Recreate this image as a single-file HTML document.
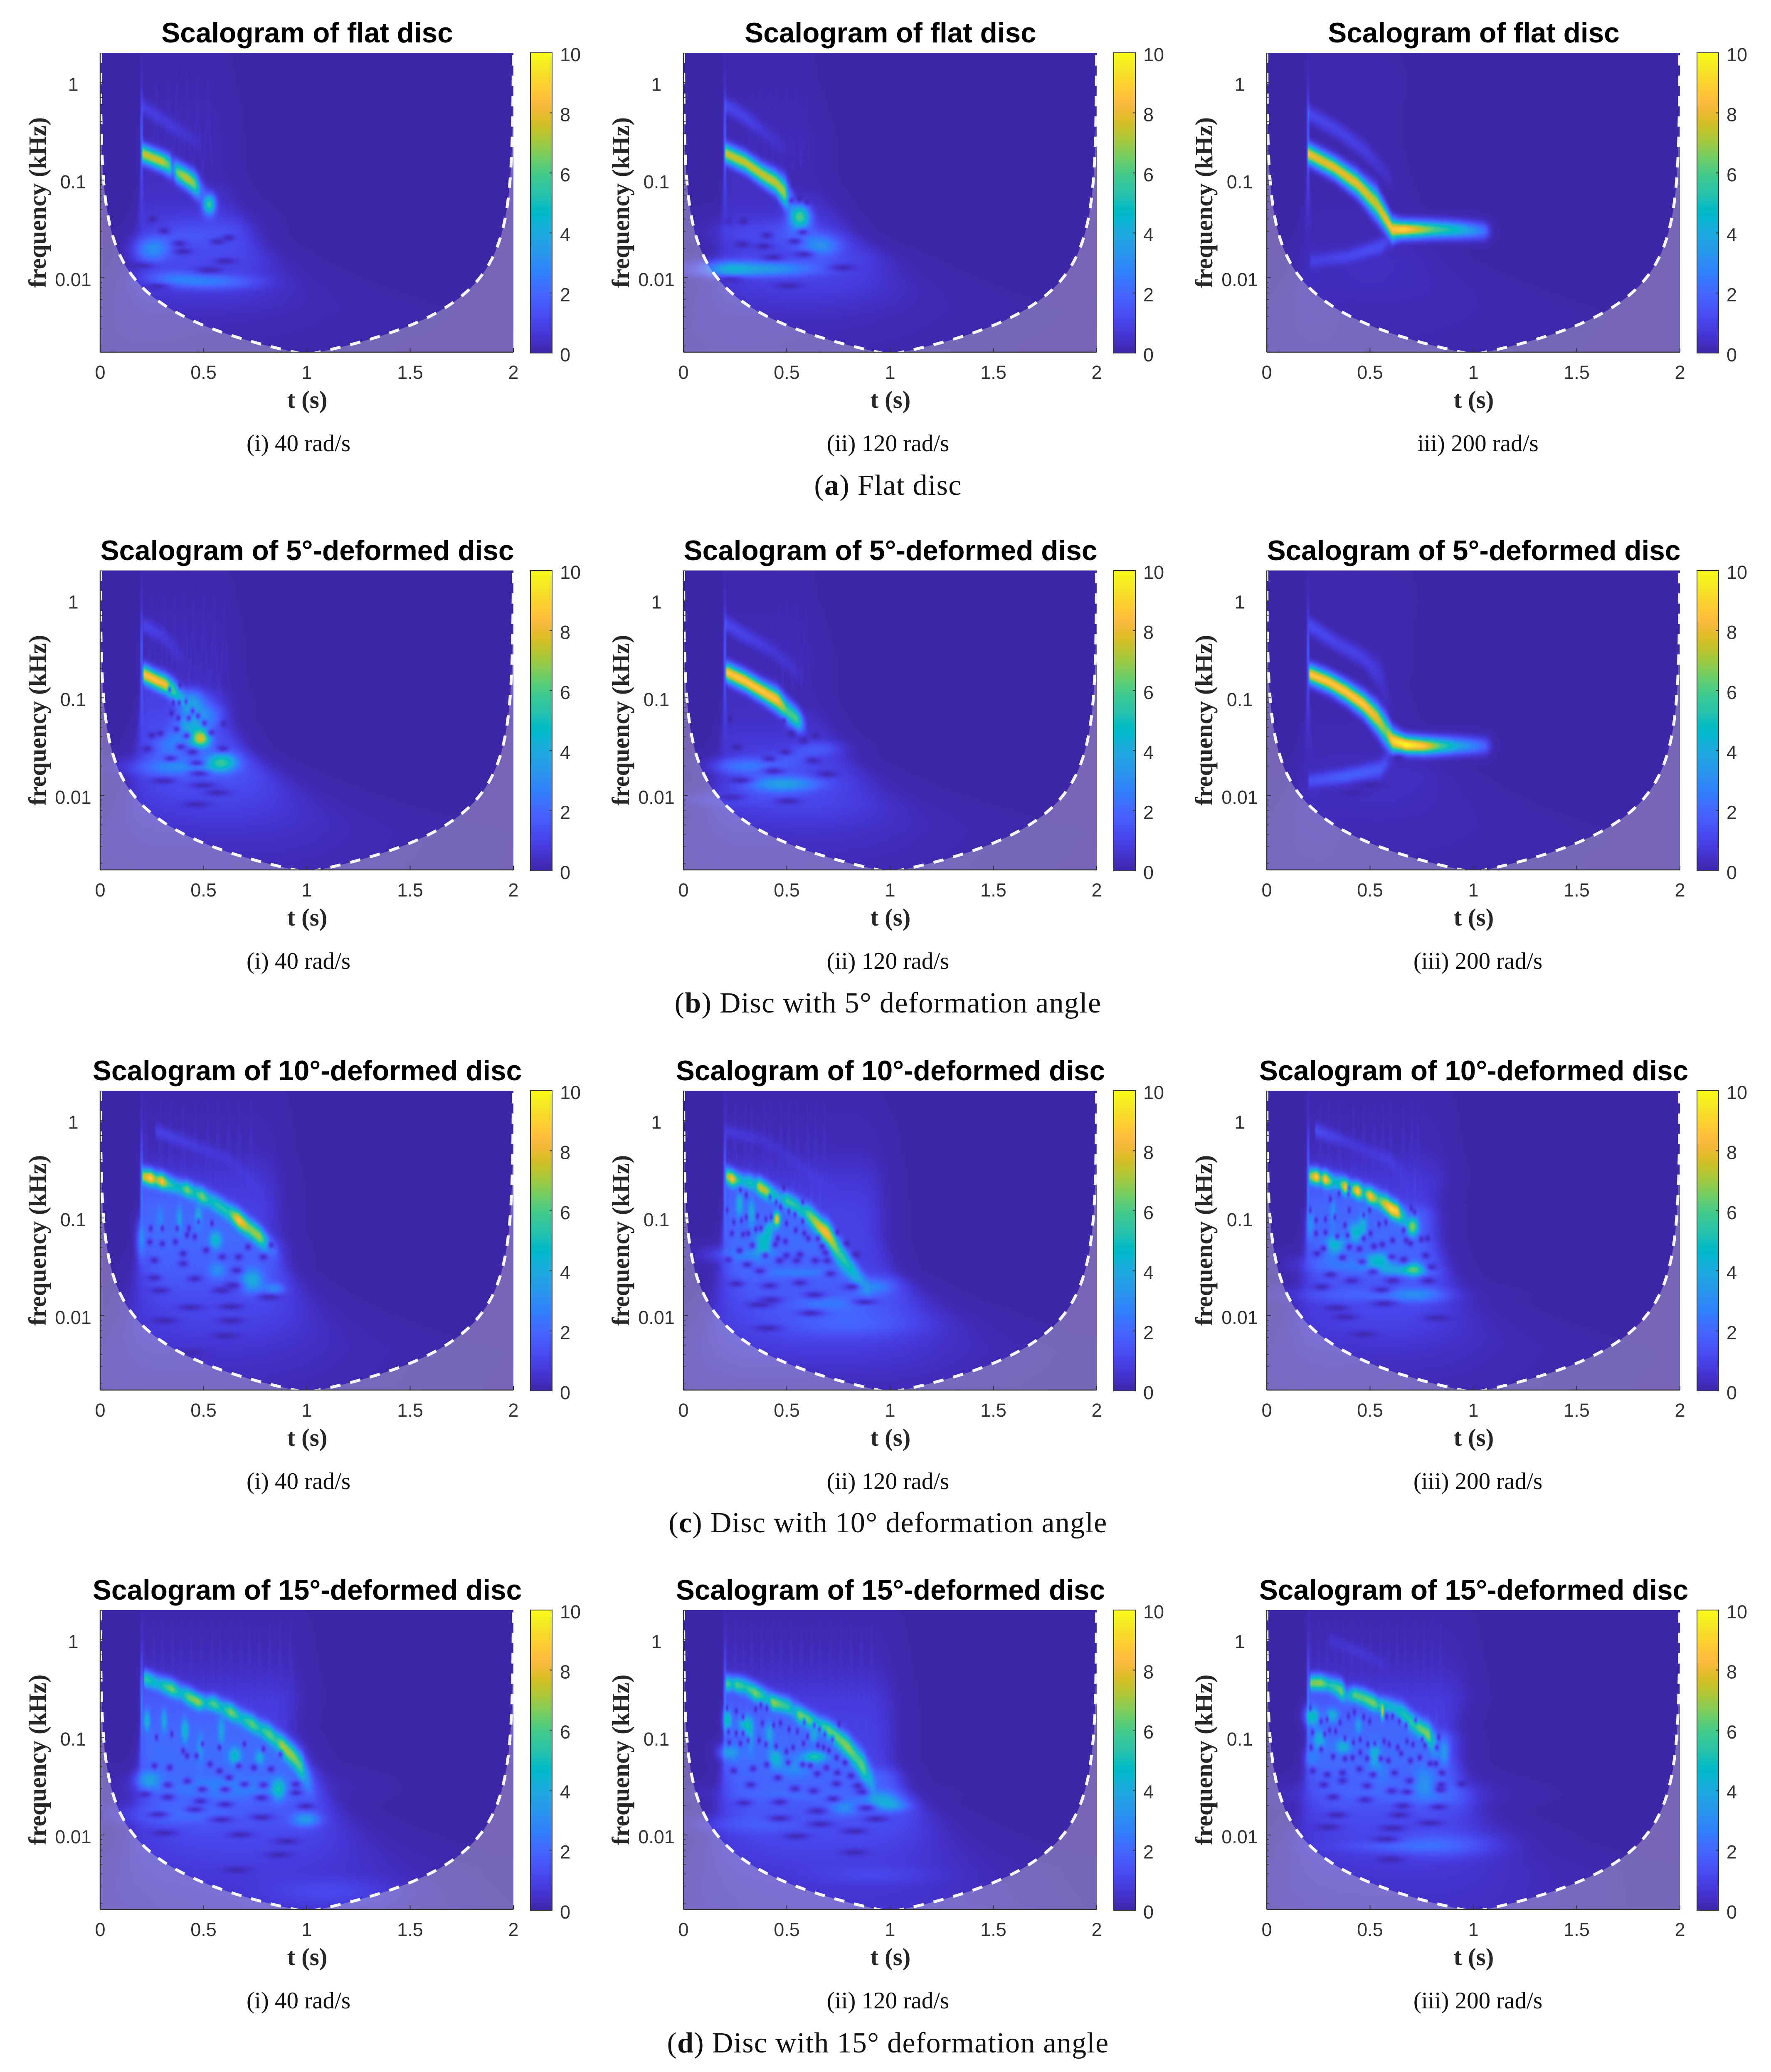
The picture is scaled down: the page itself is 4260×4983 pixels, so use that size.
<!DOCTYPE html>
<html lang="en">
<head>
<meta charset="utf-8">
<title>Scalograms of flat and deformed discs</title>
<style>
html,body{margin:0;padding:0;background:#fff;}
#figure{position:relative;width:4260px;height:4983px;overflow:hidden;background:#fff;}
#figure canvas{position:absolute;display:block;}
#overlay{position:absolute;left:0;top:0;}
.title{font:bold 67.5px "Liberation Sans",Arial,sans-serif;fill:#000;text-anchor:middle;}
.axis-title{font:bold 59px "Liberation Serif","Times New Roman",serif;fill:#262626;text-anchor:middle;}
.tick-label{font:45px "Liberation Sans",Arial,sans-serif;fill:#333;}
.caption{font:57px "Liberation Serif","Times New Roman",serif;fill:#111;text-anchor:middle;}
.subcaption{font:70px "Liberation Serif","Times New Roman",serif;fill:#111;text-anchor:middle;letter-spacing:1.3px;}
</style>
</head>
<body>
<div id="figure">
<svg id="overlay" width="4260" height="4983" viewBox="0 0 4260 4983" xmlns="http://www.w3.org/2000/svg">
<defs>
<clipPath id="plot-clip"><rect x="0" y="0" width="994" height="720"></rect></clipPath>
<linearGradient id="parula-gradient" x1="0" y1="1" x2="0" y2="0"></linearGradient>
</defs>

<g id="p-a1" transform="translate(241,127)">
<text class="title" x="498" y="-25">Scalogram of flat disc</text>
<text class="axis-title" x="498" y="854">t (s)</text>
<text class="axis-title" transform="translate(-131,360) rotate(-90)">frequency (kHz)</text>
<text class="caption" x="477" y="958">(i) 40 rad/s</text>
</g>
<g id="p-a2" transform="translate(1644,127)">
<text class="title" x="498" y="-25">Scalogram of flat disc</text>
<text class="axis-title" x="498" y="854">t (s)</text>
<text class="axis-title" transform="translate(-131,360) rotate(-90)">frequency (kHz)</text>
<text class="caption" x="492" y="958">(ii) 120 rad/s</text>
</g>
<g id="p-a3" transform="translate(3047,127)">
<text class="title" x="498" y="-25">Scalogram of flat disc</text>
<text class="axis-title" x="498" y="854">t (s)</text>
<text class="axis-title" transform="translate(-131,360) rotate(-90)">frequency (kHz)</text>
<text class="caption" x="508" y="958">iii) 200 rad/s</text>
</g>
<text class="subcaption" x="2136" y="1190">(<tspan font-weight="bold">a</tspan>)  Flat disc</text>

<g id="p-b1" transform="translate(241,1372)">
<text class="title" x="498" y="-25">Scalogram of 5°-deformed disc</text>
<text class="axis-title" x="498" y="854">t (s)</text>
<text class="axis-title" transform="translate(-131,360) rotate(-90)">frequency (kHz)</text>
<text class="caption" x="477" y="958">(i) 40 rad/s</text>
</g>
<g id="p-b2" transform="translate(1644,1372)">
<text class="title" x="498" y="-25">Scalogram of 5°-deformed disc</text>
<text class="axis-title" x="498" y="854">t (s)</text>
<text class="axis-title" transform="translate(-131,360) rotate(-90)">frequency (kHz)</text>
<text class="caption" x="492" y="958">(ii) 120 rad/s</text>
</g>
<g id="p-b3" transform="translate(3047,1372)">
<text class="title" x="498" y="-25">Scalogram of 5°-deformed disc</text>
<text class="axis-title" x="498" y="854">t (s)</text>
<text class="axis-title" transform="translate(-131,360) rotate(-90)">frequency (kHz)</text>
<text class="caption" x="508" y="958">(iii) 200 rad/s</text>
</g>
<text class="subcaption" x="2136" y="2435">(<tspan font-weight="bold">b</tspan>)  Disc with 5° deformation angle</text>

<g id="p-c1" transform="translate(241,2623)">
<text class="title" x="498" y="-25">Scalogram of 10°-deformed disc</text>
<text class="axis-title" x="498" y="854">t (s)</text>
<text class="axis-title" transform="translate(-131,360) rotate(-90)">frequency (kHz)</text>
<text class="caption" x="477" y="958">(i) 40 rad/s</text>
</g>
<g id="p-c2" transform="translate(1644,2623)">
<text class="title" x="498" y="-25">Scalogram of 10°-deformed disc</text>
<text class="axis-title" x="498" y="854">t (s)</text>
<text class="axis-title" transform="translate(-131,360) rotate(-90)">frequency (kHz)</text>
<text class="caption" x="492" y="958">(ii) 120 rad/s</text>
</g>
<g id="p-c3" transform="translate(3047,2623)">
<text class="title" x="498" y="-25">Scalogram of 10°-deformed disc</text>
<text class="axis-title" x="498" y="854">t (s)</text>
<text class="axis-title" transform="translate(-131,360) rotate(-90)">frequency (kHz)</text>
<text class="caption" x="508" y="958">(iii) 200 rad/s</text>
</g>
<text class="subcaption" x="2136" y="3685">(<tspan font-weight="bold">c</tspan>)  Disc with 10° deformation angle</text>

<g id="p-d1" transform="translate(241,3872)">
<text class="title" x="498" y="-25">Scalogram of 15°-deformed disc</text>
<text class="axis-title" x="498" y="854">t (s)</text>
<text class="axis-title" transform="translate(-131,360) rotate(-90)">frequency (kHz)</text>
<text class="caption" x="477" y="958">(i) 40 rad/s</text>
</g>
<g id="p-d2" transform="translate(1644,3872)">
<text class="title" x="498" y="-25">Scalogram of 15°-deformed disc</text>
<text class="axis-title" x="498" y="854">t (s)</text>
<text class="axis-title" transform="translate(-131,360) rotate(-90)">frequency (kHz)</text>
<text class="caption" x="492" y="958">(ii) 120 rad/s</text>
</g>
<g id="p-d3" transform="translate(3047,3872)">
<text class="title" x="498" y="-25">Scalogram of 15°-deformed disc</text>
<text class="axis-title" x="498" y="854">t (s)</text>
<text class="axis-title" transform="translate(-131,360) rotate(-90)">frequency (kHz)</text>
<text class="caption" x="508" y="958">(iii) 200 rad/s</text>
</g>
<text class="subcaption" x="2136" y="4936">(<tspan font-weight="bold">d</tspan>)  Disc with 15° deformation angle</text>
</svg>
</div>

<script>
// ---------- axes ----------
const tTicks=[0,0.5,1,1.5,2];
const tLabels=['0','0.5','1','1.5','2'];
const fTicks=[1,0.1,0.01];
const fLabels=['1','0.1','0.01'];
const fMinorTicks=[2,0.9,0.8,0.7,0.6,0.5,0.4,0.3,0.2,0.09,0.08,0.07,0.06,0.05,0.04,0.03,0.02,0.009,0.008,0.007,0.006,0.005,0.004,0.003,0.002];
const cbTicks=[0,2,4,6,8,10];
const tDomain=[0,2];
const logFDomain=[-2.762,0.304];
const cbDomain=[0,10];
const coiConstant=0.00163;

// ---------- shared signal profiles (log10 kHz) ----------
const spikeTime=0.2;
const spikeLogF=[0.3,0,-0.5,-0.8,-1,-1.3,-1.6];
const spikeA=[0.15,0.4,1.8,1.6,1,0.45,0.12];
const veinLogF=[0.3,0,-0.3,-0.6,-0.85,-1];
const veinA=[0.1,0.3,0.6,0.8,0.7,0];
const hazeLogF=[0.3,0,-0.3,-0.6,-0.9,-1.2,-1.5,-1.8,-2.1,-2.4,-2.7];

// ---------- flat disc, 40 rad/s ----------
const flat40MainT=[0.207,0.30,0.335,0.35,0.373,0.42,0.457,0.49];
const flat40MainF=[-0.73,-0.81,-0.85,-0.88,-0.92,-0.98,-1.04,-1.12];
const flat40MainA=[7.5,7.5,6,2.2,6.5,7.5,6.5,2];
const flat40EchoT=[0.207,0.35,0.46];
const flat40EchoF=[-0.25,-0.45,-0.6];
const flat40EchoA=[0.8,0.7,0.4];
const flat40PatchT=[0.527,0.253,0.55,0.346,0.6,0.4];
const flat40PatchF=[-1.247,-1.71,-2.04,-2,-1.56,-1.56];
const flat40PatchA=[5.5,2.8,2.2,1.5,1,1];
const flat40PatchDt=[0.018,0.05,0.13,0.08,0.08,0.07];
const flat40PatchDf=[0.06,0.08,0.05,0.05,0.12,0.1];
const flat40HoleT=[0.253,0.309,0.383,0.40,0.567,0.623,0.604,0.53,0.198,0.272];
const flat40HoleF=[-1.40,-1.52,-1.65,-1.73,-1.63,-1.59,-1.83,-1.92,-1.876,-2.09];
const flat40HazeA=[0.05,0.12,0.3,0.4,0.3,0.45,0.9,1.2,0.9,0.35,0.1];
const flat40HazeEnd=[0.6,0.6,0.6,0.6,0.62,0.65,0.72,0.8,0.85,0.9,0.9];
const flat40VeinT=[0.27,0.33,0.37,0.42,0.47,0.52];

// ---------- flat disc, 120 rad/s ----------
const flat120MainT=[0.206,0.30,0.382,0.448,0.489,0.51];
const flat120MainF=[-0.727,-0.82,-0.944,-1.027,-1.13,-1.2];
const flat120MainA=[7.5,7.5,7.5,7.4,7,3];
const flat120EchoT=[0.206,0.26,0.317,0.382,0.465];
const flat120EchoF=[-0.24,-0.30,-0.386,-0.49,-0.634];
const flat120EchoA=[1.1,1,0.9,0.6,0.4];
const flat120PatchT=[0.563,0.38,0.22,0.67,0.3,0.55];
const flat120PatchF=[-1.368,-1.91,-1.91,-1.678,-1.54,-1.55];
const flat120PatchA=[5.5,3.3,1.6,2.6,0.8,1.3];
const flat120PatchDt=[0.028,0.17,0.06,0.06,0.1,0.08];
const flat120PatchDf=[0.07,0.05,0.05,0.07,0.09,0.1];
const flat120HoleT=[0.522,0.563,0.596,0.53,0.576,0.539,0.584,0.432,0.387,0.284,0.403,0.21,0.288,0.769,0.506,0.226];
const flat120HoleF=[-1.209,-1.19,-1.223,-1.048,-1.533,-1.626,-1.76,-1.791,-1.678,-1.657,-1.564,-1.419,-1.419,-1.895,-2.08,-2.019];
const flat120HazeA=[0.05,0.12,0.3,0.4,0.35,0.4,0.7,1.1,0.9,0.4,0.15];
const flat120HazeEnd=[0.6,0.6,0.62,0.65,0.65,0.7,0.8,0.95,1,1,1];
const flat120VeinT=[0.33,0.37,0.41,0.45,0.5,0.55,0.59];

// ---------- flat disc, 200 rad/s ----------
const flat200MainT=[0.204,0.326,0.439,0.532,0.607,0.664,0.813,0.93,1.04];
const flat200MainF=[-0.732,-0.869,-1.04,-1.247,-1.505,-1.505,-1.505,-1.51,-1.52];
const flat200MainA=[8,8,8,7.5,8.5,9,6,4.5,2.5];
const flat200EchoT=[0.204,0.345,0.476,0.58];
const flat200EchoF=[-0.32,-0.49,-0.70,-0.94];
const flat200EchoA=[1.1,1,0.8,0.4];
const flat200LowT=[0.214,0.40,0.55,0.6];
const flat200LowF=[-1.83,-1.78,-1.68,-1.6];
const flat200LowA=[0.8,1.1,1.3,0.7];
const flat200PatchT=[];
const flat200PatchF=[];
const flat200PatchA=[];
const flat200PatchDt=[];
const flat200PatchDf=[];
const flat200HoleT=[];
const flat200HoleF=[];
const flat200HazeA=[0.03,0.06,0.12,0.12,0.08,0.08,0.12,0.3,0.3,0.18,0.1];
const flat200HazeEnd=[0.65,0.65,0.6,0.6,0.65,0.7,0.75,0.8,0.9,1,1];
const flat200VeinT=[];

// ---------- 5 deg, 40 rad/s ----------
const deg5w40MainT=[0.212,0.266,0.315,0.36,0.397];
const deg5w40MainF=[-0.758,-0.816,-0.862,-0.934,-1.006];
const deg5w40MainA=[8.5,8.5,8.2,5.5,3.2];
const deg5w40EchoT=[0.212,0.307,0.373];
const deg5w40EchoF=[-0.262,-0.366,-0.531];
const deg5w40EchoA=[1,0.7,0.45];
const deg5w40PatchT=[0.488,0.59,0.438,0.512,0.38,0.348,0.42];
const deg5w40PatchF=[-1.42,-1.657,-1.027,-1.19,-1.71,-1.48,-1.275];
const deg5w40PatchA=[7,4.6,3,2.4,2.5,2.2,2.8];
const deg5w40PatchDt=[0.028,0.045,0.04,0.05,0.13,0.05,0.04];
const deg5w40PatchDf=[0.055,0.06,0.07,0.08,0.06,0.08,0.08];
const deg5w40HoleT=[0.336,0.385,0.354,0.382,0.415,0.447,0.345,0.378,0.428,0.473,0.504,0.596,0.37,0.418,0.537,0.29,0.249,0.389,0.447,0.593,0.34,0.467,0.478,0.307,0.225,0.496,0.566,0.463];
const deg5w40HoleF=[-0.917,-0.872,-1.048,-1.052,-1.037,-1.136,-1.157,-1.209,-1.207,-1.186,-1.258,-1.264,-1.32,-1.388,-1.357,-1.364,-1.384,-1.502,-1.554,-1.519,-1.62,-1.667,-1.775,-1.849,-1.523,-1.895,-1.971,-2.091];
const deg5w40HazeA=[0.05,0.15,0.35,0.5,0.8,1.1,1.5,1.5,1,0.55,0.25];
const deg5w40HazeEnd=[0.6,0.6,0.6,0.6,0.6,0.6,0.68,0.82,0.95,1.1,1.2];
const deg5w40VeinT=[0.25,0.31,0.36,0.41,0.45,0.5,0.55,0.6];

// ---------- 5 deg, 120 rad/s ----------
const deg5w120MainT=[0.21,0.30,0.382,0.456,0.498,0.543];
const deg5w120MainF=[-0.738,-0.83,-0.934,-1.027,-1.13,-1.209];
const deg5w120MainA=[8.7,8.7,8.7,8.5,6,6];
const deg5w120EchoT=[0.206,0.284,0.366,0.44,0.53];
const deg5w120EchoF=[-0.242,-0.345,-0.438,-0.531,-0.696];
const deg5w120EchoA=[1.1,1,0.8,0.6,0.5];
const deg5w120PatchT=[0.284,0.481,0.654,0.5,0.3];
const deg5w120PatchF=[-1.698,-1.884,-1.523,-1.65,-2.04];
const deg5w120PatchA=[2.2,3.5,1.3,1.3,0.8];
const deg5w120PatchDt=[0.08,0.11,0.07,0.08,0.2];
const deg5w120PatchDf=[0.05,0.05,0.05,0.07,0.05];
const deg5w120HoleT=[0.522,0.58,0.637,0.259,0.493,0.415,0.625,0.436,0.275,0.23,0.506,0.226,0.485,0.695];
const deg5w120HoleF=[-1.368,-1.436,-1.388,-1.506,-1.554,-1.622,-1.643,-1.75,-1.845,-2.019,-2.06,-1.213,-1.233,-1.781];
const deg5w120HazeA=[0.05,0.12,0.3,0.35,0.3,0.4,0.75,1.1,1.1,0.55,0.25];
const deg5w120HazeEnd=[0.6,0.6,0.62,0.65,0.65,0.68,0.75,0.85,0.95,1.05,1.1];
const deg5w120VeinT=[0.46,0.5,0.55,0.59];

// ---------- 5 deg, 200 rad/s ----------
const deg5w200MainT=[0.21,0.304,0.387,0.469,0.535,0.576,0.609,0.674,0.757,0.839,0.921,1.044];
const deg5w200MainF=[-0.758,-0.841,-0.944,-1.068,-1.213,-1.337,-1.44,-1.481,-1.492,-1.492,-1.492,-1.492];
const deg5w200MainA=[8.7,8.7,8.7,8.7,8,6.5,9,10,8.7,6,4,2];
const deg5w200EchoT=[0.21,0.345,0.469,0.551,0.576];
const deg5w200EchoF=[-0.262,-0.448,-0.593,-0.779,-0.944];
const deg5w200EchoA=[1.2,1,0.9,0.6,0.3];
const deg5w200LowT=[0.206,0.387,0.551,0.6];
const deg5w200LowF=[-1.853,-1.80,-1.729,-1.6];
const deg5w200LowA=[1.2,1.8,1.6,0.7];
const deg5w200PatchT=[];
const deg5w200PatchF=[];
const deg5w200PatchA=[];
const deg5w200PatchDt=[];
const deg5w200PatchDf=[];
const deg5w200HoleT=[0.633,0.502,0.419];
const deg5w200HoleF=[-1.616,-1.895,-1.977];
const deg5w200HazeA=[0.03,0.06,0.12,0.12,0.08,0.08,0.15,0.35,0.3,0.18,0.1];
const deg5w200HazeEnd=[0.7,0.7,0.65,0.65,0.65,0.7,0.75,0.85,0.9,1,1];
const deg5w200VeinT=[];

// ---------- 10 deg, 40 rad/s ----------
const deg10w40MainT=[0.207,0.244,0.27,0.30,0.33,0.364,0.39,0.42,0.457,0.494,0.53,0.567,0.62,0.669,0.72,0.771,0.826];
const deg10w40MainF=[-0.574,-0.591,-0.608,-0.625,-0.65,-0.677,-0.694,-0.711,-0.745,-0.78,-0.82,-0.866,-0.94,-1.02,-1.106,-1.192,-1.296];
const deg10w40MainA=[7,9,6.5,8.5,5.5,4.5,4.5,6.5,4.5,6.5,4.2,5,4.8,8.5,6.5,6.8,2];
const deg10w40EchoT=[0.272,0.623,0.771];
const deg10w40EchoF=[-0.11,-0.4,-0.71];
const deg10w40EchoA=[0.9,0.5,0.4];
const deg10w40PatchT=[0.558,0.734,0.845,0.567,0.383,0.475,0.2,0.29];
const deg10w40PatchF=[-1.227,-1.639,-1.725,-1.536,-1.02,-0.986,-1.227,-1.02];
const deg10w40PatchA=[4.2,3.8,2.5,2.6,3,3.5,2.2,2];
const deg10w40PatchDt=[0.02,0.035,0.03,0.03,0.01,0.012,0.015,0.012];
const deg10w40PatchDf=[0.06,0.08,0.04,0.06,0.1,0.08,0.12,0.1];
const deg10w40HoleT=[0.244,0.30,0.24,0.30,0.364,0.42,0.457,0.373,0.429,0.475,0.54,0.401,0.512,0.59,0.669,0.715,0.789,0.826,0.262,0.401,0.66,0.262,0.457,0.586,0.29,0.641,0.817,0.438,0.632,0.309,0.632,0.604,0.438];
const deg10w40HoleF=[-1.107,-1.107,-1.244,-1.261,-1.244,-1.175,-1.192,-1.107,-1.107,-1.038,-1.055,-1.364,-1.33,-1.399,-1.399,-1.296,-1.399,-1.278,-1.433,-1.467,-1.536,-1.612,-1.622,-1.742,-1.742,-1.691,-1.811,-1.914,-1.907,-2.052,-2.052,-2.206,-2.378];
const deg10w40HazeA=[0.1,0.25,0.5,1.4,2,2.1,1.8,1.3,1,0.6,0.3];
const deg10w40HazeEnd=[0.85,0.85,0.85,0.85,0.85,0.85,0.88,0.95,1,1.05,1.1];
const deg10w40VeinT=[0.22,0.29,0.34,0.4,0.46,0.52,0.57,0.62,0.67,0.73];

// ---------- 10 deg, 120 rad/s ----------
const deg10w120MainT=[0.21,0.236,0.259,0.29,0.325,0.345,0.368,0.403,0.448,0.475,0.502,0.547,0.58,0.613,0.67,0.699,0.752,0.794,0.843,0.876];
const deg10w120MainF=[-0.572,-0.599,-0.61,-0.625,-0.64,-0.66,-0.682,-0.727,-0.775,-0.8,-0.826,-0.878,-0.93,-0.981,-1.116,-1.167,-1.353,-1.477,-1.601,-1.684];
const deg10w120MainA=[6.5,8.5,5.5,4,5,4,7.5,7,4,3.5,5.5,4.8,4.5,6.2,8,8,5.5,4.8,3.5,2.5];
const deg10w120EchoT=[0.21,0.38,0.46,0.63,0.71];
const deg10w120EchoF=[-0.11,-0.2,-0.3,-0.57,-0.69];
const deg10w120EchoA=[0.7,0.5,0.45,0.45,0.35];
const deg10w120PatchT=[0.452,0.271,0.329,0.387,0.415,0.917,0.711,0.547,0.3,0.794];
const deg10w120PatchF=[-1.012,-0.857,-0.94,-1.24,-1.105,-1.705,-1.87,-1.56,-1.374,-2.076];
const deg10w120PatchA=[8,3.8,3.4,4.2,3,2.4,1.7,1.8,1.8,1.5];
const deg10w120PatchDt=[0.011,0.012,0.012,0.025,0.012,0.06,0.12,0.14,0.1,0.2];
const deg10w120PatchDf=[0.05,0.09,0.1,0.08,0.05,0.05,0.05,0.03,0.05,0.09];
const deg10w120HoleT=[0.21,0.243,0.234,0.28,0.304,0.288,0.313,0.35,0.374,0.333,0.271,0.214,0.308,0.37,0.395,0.444,0.493,0.465,0.498,0.547,0.563,0.456,0.399,0.424,0.358,0.498,0.51,0.539,0.576,0.543,0.584,0.604,0.65,0.67,0.687,0.637,0.695,0.711,0.563,0.255,0.415,0.633,0.814,0.876,0.424,0.366,0.617,0.407,0.835,0.789,0.744,0.275,0.304,0.419,0.448,0.469,0.485,0.576];
const deg10w120HoleF=[-0.919,-1.043,-1.157,-1.023,-0.992,-1.167,-1.157,-1.116,-1.105,-1.281,-1.333,-1.426,-1.477,-1.543,-1.384,-1.271,-1.24,-1.436,-1.384,-1.436,-1.374,-1.209,-1.012,-0.992,-0.981,-1.054,-0.93,-0.961,-1.033,-1.126,-1.157,-1.209,-1.209,-1.291,-1.353,-1.436,-1.436,-1.57,-1.663,-1.674,-1.694,-1.787,-1.705,-1.86,-1.839,-1.89,-1.973,-2.128,-1.374,-1.26,-1.147,-0.713,-0.764,-0.785,-0.837,-0.888,-0.692,-0.837];
const deg10w120HazeA=[0.1,0.25,0.5,1.4,2,2.2,2,1.6,1.3,0.8,0.3];
const deg10w120HazeEnd=[0.9,0.95,0.95,0.95,0.95,0.95,1,1.1,1.2,1.25,1.3];
const deg10w120VeinT=[0.21,0.25,0.3,0.33,0.39,0.42,0.47,0.51,0.55,0.6,0.64,0.68];

// ---------- 10 deg, 200 rad/s ----------
const deg10w200MainT=[0.21,0.241,0.262,0.284,0.321,0.35,0.38,0.41,0.44,0.469,0.5,0.539,0.58,0.604,0.633,0.65];
const deg10w200MainF=[-0.572,-0.579,-0.592,-0.605,-0.63,-0.645,-0.682,-0.702,-0.723,-0.744,-0.775,-0.812,-0.868,-0.909,-0.94,-0.971];
const deg10w200MainA=[6.5,9,5.5,8.8,4.5,4.5,8.5,5.5,9,4.5,8.5,5.5,8,9,8.5,5];
const deg10w200EchoT=[0.238,0.378,0.469,0.592,0.65];
const deg10w200EchoF=[-0.103,-0.217,-0.3,-0.403,-0.527];
const deg10w200EchoA=[1.2,0.7,0.6,0.7,0.45];
const deg10w200PatchT=[0.705,0.432,0.329,0.543,0.658,0.715,0.732,0.469,0.321,0.469,0.214,0.386];
const deg10w200PatchF=[-1.089,-1.147,-1.271,-1.426,-1.539,-1.519,-1.787,-1.787,-0.94,-1.023,-1.064,-1.477];
const deg10w200PatchA=[6.5,4,4,3.5,3.2,3.3,2,1.4,2.5,2.5,2.4,1.7];
const deg10w200PatchDt=[0.018,0.025,0.03,0.04,0.08,0.025,0.08,0.2,0.01,0.012,0.012,0.12];
const deg10w200PatchDf=[0.06,0.07,0.06,0.05,0.035,0.05,0.05,0.05,0.1,0.08,0.1,0.06];
const deg10w200HoleT=[0.21,0.238,0.284,0.238,0.284,0.329,0.378,0.399,0.469,0.498,0.341,0.391,0.469,0.502,0.543,0.576,0.609,0.559,0.518,0.448,0.399,0.674,0.695,0.748,0.777,0.243,0.275,0.366,0.461,0.514,0.604,0.662,0.769,0.798,0.308,0.411,0.609,0.781,0.267,0.555,0.567,0.337,0.378,0.822,0.469,0.308,0.35,0.395,0.662,0.699,0.715,0.399];
const deg10w200HoleF=[-0.919,-1.023,-1.012,-1.157,-1.147,-0.992,-1.074,-0.919,-0.971,-0.919,-1.188,-1.178,-1.209,-1.157,-1.064,-1.043,-1.229,-1.271,-1.291,-1.316,-1.295,-1.229,-1.26,-1.219,-1.209,-1.364,-1.312,-1.405,-1.446,-1.55,-1.399,-1.426,-1.384,-1.502,-1.581,-1.643,-1.643,-1.643,-1.705,-1.736,-1.876,-1.921,-2.014,-2.025,-2.19,-0.806,-0.744,-0.754,-1.126,-0.899,-0.94,-0.692];
const deg10w200HazeA=[0.1,0.25,0.5,1.4,2,2.1,1.8,1.3,1,0.55,0.25];
const deg10w200HazeEnd=[0.85,0.85,0.85,0.85,0.8,0.8,0.85,0.9,0.95,1,1.05];
const deg10w200VeinT=[0.2,0.26,0.3,0.35,0.42,0.47,0.52,0.56,0.6,0.66,0.7,0.73];

// ---------- 15 deg, 40 rad/s ----------
const deg15w40MainT=[0.216,0.28,0.346,0.39,0.429,0.475,0.51,0.549,0.59,0.632,0.68,0.734,0.775,0.817,0.85,0.88,0.937,0.974,0.993];
const deg15w40MainF=[-0.399,-0.45,-0.502,-0.545,-0.588,-0.639,-0.648,-0.656,-0.70,-0.742,-0.80,-0.863,-0.915,-0.966,-1.03,-1.086,-1.206,-1.309,-1.378];
const deg15w40MainA=[5.5,4.2,6.5,4,6.2,6.8,4.2,6,4.2,6.5,4.2,6,4.5,6,5,7,6.5,5.5,3];
const deg15w40PatchT=[0.309,0.41,0.226,0.484,0.651,0.586,0.771,0.235,0.863,0.993,0.623,0.4,1.1];
const deg15w40PatchF=[-0.828,-0.931,-0.828,-1.103,-1.189,-0.931,-1.206,-1.43,-1.533,-1.842,-1.515,-1.79,-2.58];
const deg15w40PatchA=[3.5,4.2,4,2.8,4.2,3.2,3.5,2.8,3.5,3.2,2,1.6,1];
const deg15w40PatchDt=[0.01,0.012,0.01,0.012,0.02,0.012,0.015,0.035,0.02,0.045,0.2,0.18,0.2];
const deg15w40PatchDf=[0.08,0.08,0.07,0.1,0.06,0.1,0.05,0.06,0.07,0.05,0.08,0.07,0.1];
const deg15w40HoleT=[0.262,0.336,0.42,0.327,0.42,0.216,0.327,0.494,0.484,0.577,0.531,0.623,0.669,0.743,0.826,0.697,0.604,0.789,0.946,0.946,0.604,0.78,0.993,0.457,0.281,0.586,0.78,0.309,0.678,0.9,0.863,0.66,0.401,0.466,0.346,0.272,0.494,0.577,0.697,0.789,0.872];
const deg15w40HoleF=[-1.292,-1.309,-1.189,-1.488,-1.447,-1.584,-1.612,-1.533,-1.653,-1.344,-1.275,-1.412,-1.292,-1.309,-1.326,-1.481,-1.533,-1.488,-1.481,-1.567,-1.687,-1.619,-1.704,-1.739,-1.79,-1.842,-1.818,-1.979,-1.997,-2.065,-2.203,-2.357,-1.137,-1.189,-0.966,-1,-1.069,-1.103,-1.069,-1.12,-1.172];
const deg15w40HazeA=[0.1,0.3,0.7,1.6,2,2.2,2,1.5,1.1,0.8,0.6];
const deg15w40HazeEnd=[0.95,0.95,0.95,0.95,0.92,1,1.05,1.12,1.2,1.3,1.5];
const deg15w40VeinT=[0.21,0.26,0.3,0.35,0.39,0.44,0.49,0.54,0.58,0.63,0.68,0.72,0.77,0.82,0.87,0.92];

// ---------- 15 deg, 120 rad/s ----------
const deg15w120MainT=[0.21,0.238,0.261,0.30,0.348,0.382,0.41,0.433,0.465,0.51,0.535,0.559,0.6,0.65,0.703,0.744,0.798,0.835,0.868,0.9];
const deg15w120MainF=[-0.452,-0.452,-0.463,-0.483,-0.545,-0.576,-0.61,-0.643,-0.659,-0.69,-0.73,-0.769,-0.814,-0.87,-0.928,-1,-1.107,-1.207,-1.3,-1.413];
const deg15w120MainA=[6,4.5,6,5,6.5,5,4,6.8,6,5,3.5,6.2,6.2,4.5,6,6,6.5,5.5,6,3.5];
const deg15w120PatchT=[0.214,0.3,0.415,0.637,0.226,0.444,0.539,0.958,0.777,1.024,0.325,0.547,0.63,0.341,0.917];
const deg15w120PatchF=[-0.824,-0.866,-0.959,-1.196,-1.155,-1.207,-1.31,-1.64,-1.723,-1.702,-1.02,-1.58,-0.98,-1.89,-2.405];
const deg15w120PatchA=[4.5,4.2,3.2,4.4,3,3.4,2.3,3,2.5,2,2.5,1.2,3.2,1.2,0.9];
const deg15w120PatchDt=[0.012,0.022,0.015,0.035,0.03,0.02,0.06,0.05,0.05,0.05,0.012,0.2,0.015,0.16,0.2];
const deg15w120PatchDf=[0.07,0.06,0.08,0.035,0.05,0.06,0.07,0.06,0.05,0.04,0.1,0.05,0.05,0.06,0.07];
const deg15w120HoleT=[0.218,0.255,0.288,0.222,0.275,0.313,0.366,0.399,0.448,0.498,0.53,0.58,0.6,0.506,0.576,0.613,0.65,0.677,0.703,0.74,0.781,0.691,0.646,0.744,0.81,0.843,0.863,0.74,0.724,0.629,0.539,0.456,0.403,0.337,0.243,0.325,0.292,0.465,0.646,0.884,0.465,0.933,0.662,0.547,0.826,0.826,0.21,0.255,0.288,0.349,0.382,0.436,0.469,0.51,0.551,0.584,0.633,0.658,0.683,0.72,0.752,0.374,0.403];
const deg15w120HoleF=[-0.938,-0.959,-0.959,-1.052,-1.062,-1.031,-1.031,-1.072,-1.093,-1.145,-1.103,-1.062,-0.99,-1.258,-1.279,-1.289,-1.083,-1.103,-1.134,-1.207,-1.258,-1.31,-1.372,-1.362,-1.393,-1.496,-1.558,-1.475,-1.63,-1.548,-1.527,-1.413,-1.279,-1.32,-1.341,-1.486,-1.671,-1.661,-1.754,-1.723,-1.83,-1.837,-1.888,-2.012,-1.961,-2.178,-0.7,-0.731,-0.793,-0.711,-0.855,-0.876,-0.855,-0.917,-0.938,-0.845,-0.876,-0.917,-0.969,-1.021,-0.866,-0.669,-0.7];
const deg15w120HazeA=[0.1,0.3,0.7,1.6,2,2.2,1.9,1.5,1.1,0.75,0.6];
const deg15w120HazeEnd=[1,1,1,1,1,1,1.05,1.15,1.2,1.3,1.45];
const deg15w120VeinT=[0.21,0.25,0.29,0.33,0.38,0.43,0.47,0.52,0.57,0.62,0.66,0.71,0.76,0.81,0.86,0.91];

// ---------- 15 deg, 200 rad/s ----------
const deg15w200MainT=[0.214,0.262,0.296,0.329,0.362,0.387,0.424,0.469,0.518,0.539,0.592,0.625,0.658,0.695,0.74,0.785,0.798];
const deg15w200MainF=[-0.442,-0.442,-0.459,-0.483,-0.525,-0.576,-0.566,-0.597,-0.649,-0.669,-0.68,-0.711,-0.752,-0.835,-0.907,-0.979,-1.021];
const deg15w200MainA=[6.5,6.8,5,5.5,6.5,3,6,6,6.5,5,4,4,4.8,5,6,6.5,4];
const deg15w200EchoT=[0.304,0.452,0.551];
const deg15w200EchoF=[-0.008,-0.132,-0.236];
const deg15w200EchoA=[0.5,0.55,0.4];
const deg15w200PatchT=[0.559,0.222,0.317,0.444,0.255,0.37,0.522,0.859,0.761,0.218,0.839,0.551,0.551,0.551,0.847];
const deg15w200PatchF=[-0.742,-0.783,-0.773,-0.876,-1.021,-1.093,-1.155,-1.145,-1.413,-1.217,-2.095,-2.116,-1.579,-1.351,-1.6];
const deg15w200PatchA=[7.5,4.6,3.8,3,3.8,3.8,3.6,3,2,1.8,1.6,0.9,1.1,1.5,0.9];
const deg15w200PatchDt=[0.005,0.02,0.02,0.012,0.02,0.025,0.018,0.015,0.035,0.02,0.16,0.2,0.22,0.04,0.1];
const deg15w200PatchDf=[0.05,0.06,0.05,0.06,0.06,0.05,0.08,0.09,0.1,0.06,0.09,0.04,0.07,0.08,0.1];
const deg15w200HoleT=[0.21,0.222,0.263,0.292,0.354,0.304,0.333,0.28,0.378,0.419,0.452,0.489,0.522,0.567,0.592,0.633,0.678,0.707,0.752,0.765,0.822,0.214,0.263,0.321,0.378,0.415,0.452,0.485,0.551,0.588,0.65,0.695,0.74,0.789,0.818,0.847,0.222,0.292,0.366,0.448,0.514,0.617,0.691,0.275,0.366,0.485,0.843,0.942,0.321,0.477,0.604,0.678,0.839,0.658,0.831,0.641,0.337,0.789,0.609,0.296,0.576,0.6,0.395,0.424,0.469,0.498,0.58,0.609,0.641,0.674,0.72,0.831];
const deg15w200HoleF=[-0.7,-0.948,-0.835,-0.814,-0.845,-0.928,-0.938,-0.969,-1.01,-1.052,-1.021,-1.072,-1.062,-1.041,-1.072,-1.103,-1.041,-1.072,-1.021,-1.083,-1.103,-1.103,-1.124,-1.196,-1.217,-1.207,-1.155,-1.217,-1.217,-1.238,-1.165,-1.238,-1.207,-1.269,-1.269,-1.362,-1.341,-1.382,-1.362,-1.326,-1.382,-1.362,-1.444,-1.486,-1.444,-1.496,-1.486,-1.475,-1.61,-1.64,-1.548,-1.558,-1.537,-1.702,-1.713,-1.795,-1.795,-1.878,-1.93,-1.919,-2.043,-2.25,-0.783,-0.742,-0.793,-0.835,-0.783,-0.783,-0.835,-0.876,-0.824,-1];
const deg15w200HazeA=[0.1,0.3,0.7,1.6,2,2.2,1.8,1.3,0.95,0.7,0.5];
const deg15w200HazeEnd=[0.95,0.95,0.95,0.95,0.9,0.9,0.95,1,1.05,1.2,1.3];
const deg15w200VeinT=[0.21,0.25,0.29,0.33,0.37,0.41,0.46,0.5,0.55,0.59,0.63,0.67,0.72,0.76,0.8,0.84];

// ---------- panels wiring ----------
const noEchoT=[];
const noEchoF=[];
const noEchoA=[];
const panels=[
 {id:'p-a1',x:241,y:127,veinLevel:0.5,main:[flat40MainT,flat40MainF,flat40MainA],echo:[flat40EchoT,flat40EchoF,flat40EchoA],low:[noEchoT,noEchoF,noEchoA],patches:[flat40PatchT,flat40PatchF,flat40PatchA,flat40PatchDt,flat40PatchDf],holes:[flat40HoleT,flat40HoleF],haze:[flat40HazeA,flat40HazeEnd],veins:flat40VeinT},
 {id:'p-a2',x:1644,y:127,veinLevel:0.35,main:[flat120MainT,flat120MainF,flat120MainA],echo:[flat120EchoT,flat120EchoF,flat120EchoA],low:[noEchoT,noEchoF,noEchoA],patches:[flat120PatchT,flat120PatchF,flat120PatchA,flat120PatchDt,flat120PatchDf],holes:[flat120HoleT,flat120HoleF],haze:[flat120HazeA,flat120HazeEnd],veins:flat120VeinT},
 {id:'p-a3',x:3047,y:127,veinLevel:0,main:[flat200MainT,flat200MainF,flat200MainA],echo:[flat200EchoT,flat200EchoF,flat200EchoA],low:[flat200LowT,flat200LowF,flat200LowA],patches:[flat200PatchT,flat200PatchF,flat200PatchA,flat200PatchDt,flat200PatchDf],holes:[flat200HoleT,flat200HoleF],haze:[flat200HazeA,flat200HazeEnd],veins:flat200VeinT},
 {id:'p-b1',x:241,y:1372,veinLevel:0.5,main:[deg5w40MainT,deg5w40MainF,deg5w40MainA],echo:[deg5w40EchoT,deg5w40EchoF,deg5w40EchoA],low:[noEchoT,noEchoF,noEchoA],patches:[deg5w40PatchT,deg5w40PatchF,deg5w40PatchA,deg5w40PatchDt,deg5w40PatchDf],holes:[deg5w40HoleT,deg5w40HoleF],haze:[deg5w40HazeA,deg5w40HazeEnd],veins:deg5w40VeinT},
 {id:'p-b2',x:1644,y:1372,veinLevel:0.4,main:[deg5w120MainT,deg5w120MainF,deg5w120MainA],echo:[deg5w120EchoT,deg5w120EchoF,deg5w120EchoA],low:[noEchoT,noEchoF,noEchoA],patches:[deg5w120PatchT,deg5w120PatchF,deg5w120PatchA,deg5w120PatchDt,deg5w120PatchDf],holes:[deg5w120HoleT,deg5w120HoleF],haze:[deg5w120HazeA,deg5w120HazeEnd],veins:deg5w120VeinT},
 {id:'p-b3',x:3047,y:1372,veinLevel:0,main:[deg5w200MainT,deg5w200MainF,deg5w200MainA],echo:[deg5w200EchoT,deg5w200EchoF,deg5w200EchoA],low:[deg5w200LowT,deg5w200LowF,deg5w200LowA],patches:[deg5w200PatchT,deg5w200PatchF,deg5w200PatchA,deg5w200PatchDt,deg5w200PatchDf],holes:[deg5w200HoleT,deg5w200HoleF],haze:[deg5w200HazeA,deg5w200HazeEnd],veins:deg5w200VeinT},
 {id:'p-c1',x:241,y:2623,veinLevel:0.7,main:[deg10w40MainT,deg10w40MainF,deg10w40MainA],echo:[deg10w40EchoT,deg10w40EchoF,deg10w40EchoA],low:[noEchoT,noEchoF,noEchoA],patches:[deg10w40PatchT,deg10w40PatchF,deg10w40PatchA,deg10w40PatchDt,deg10w40PatchDf],holes:[deg10w40HoleT,deg10w40HoleF],haze:[deg10w40HazeA,deg10w40HazeEnd],veins:deg10w40VeinT},
 {id:'p-c2',x:1644,y:2623,veinLevel:0.7,main:[deg10w120MainT,deg10w120MainF,deg10w120MainA],echo:[deg10w120EchoT,deg10w120EchoF,deg10w120EchoA],low:[noEchoT,noEchoF,noEchoA],patches:[deg10w120PatchT,deg10w120PatchF,deg10w120PatchA,deg10w120PatchDt,deg10w120PatchDf],holes:[deg10w120HoleT,deg10w120HoleF],haze:[deg10w120HazeA,deg10w120HazeEnd],veins:deg10w120VeinT},
 {id:'p-c3',x:3047,y:2623,veinLevel:0.7,main:[deg10w200MainT,deg10w200MainF,deg10w200MainA],echo:[deg10w200EchoT,deg10w200EchoF,deg10w200EchoA],low:[noEchoT,noEchoF,noEchoA],patches:[deg10w200PatchT,deg10w200PatchF,deg10w200PatchA,deg10w200PatchDt,deg10w200PatchDf],holes:[deg10w200HoleT,deg10w200HoleF],haze:[deg10w200HazeA,deg10w200HazeEnd],veins:deg10w200VeinT},
 {id:'p-d1',x:241,y:3872,veinLevel:0.7,main:[deg15w40MainT,deg15w40MainF,deg15w40MainA],echo:[noEchoT,noEchoF,noEchoA],low:[noEchoT,noEchoF,noEchoA],patches:[deg15w40PatchT,deg15w40PatchF,deg15w40PatchA,deg15w40PatchDt,deg15w40PatchDf],holes:[deg15w40HoleT,deg15w40HoleF],haze:[deg15w40HazeA,deg15w40HazeEnd],veins:deg15w40VeinT},
 {id:'p-d2',x:1644,y:3872,veinLevel:0.7,main:[deg15w120MainT,deg15w120MainF,deg15w120MainA],echo:[noEchoT,noEchoF,noEchoA],low:[noEchoT,noEchoF,noEchoA],patches:[deg15w120PatchT,deg15w120PatchF,deg15w120PatchA,deg15w120PatchDt,deg15w120PatchDf],holes:[deg15w120HoleT,deg15w120HoleF],haze:[deg15w120HazeA,deg15w120HazeEnd],veins:deg15w120VeinT},
 {id:'p-d3',x:3047,y:3872,veinLevel:0.7,main:[deg15w200MainT,deg15w200MainF,deg15w200MainA],echo:[deg15w200EchoT,deg15w200EchoF,deg15w200EchoA],low:[noEchoT,noEchoF,noEchoA],patches:[deg15w200PatchT,deg15w200PatchF,deg15w200PatchA,deg15w200PatchDt,deg15w200PatchDf],holes:[deg15w200HoleT,deg15w200HoleF],haze:[deg15w200HazeA,deg15w200HazeEnd],veins:deg15w200VeinT}
];

// ---------- colour map (parula) ----------
const parula=[[.2422,.1504,.6603],[.2504,.165,.7076],[.2578,.1818,.7511],[.2647,.1978,.7952],[.2706,.2147,.8364],[.2751,.2342,.871],[.2783,.2559,.8991],[.2803,.2782,.9221],[.2813,.3006,.9414],[.281,.3228,.9579],[.2795,.3447,.9717],[.276,.3667,.9829],[.2699,.3892,.9906],[.2602,.4123,.9952],[.244,.4358,.9988],[.2206,.4603,.9973],[.1963,.4847,.9892],[.1834,.5074,.9798],[.1786,.5289,.9682],[.1764,.5499,.952],[.1687,.5703,.9359],[.154,.5902,.9218],[.146,.6091,.9079],[.138,.6276,.8973],[.1248,.6459,.8883],[.1113,.6635,.8763],[.0952,.6798,.8598],[.0689,.6948,.8394],[.0297,.7082,.8163],[.0036,.7203,.7917],[.0067,.7312,.766],[.0433,.7411,.7394],[.0964,.75,.712],[.1408,.7584,.6842],[.1717,.767,.6554],[.1938,.7758,.6251],[.2161,.7843,.5923],[.247,.7918,.5567],[.2906,.7973,.5188],[.3406,.8008,.4789],[.3909,.8029,.4354],[.4456,.8024,.3909],[.5044,.7993,.348],[.5616,.7942,.3045],[.6174,.7876,.2612],[.672,.7793,.2227],[.7242,.7698,.191],[.7738,.7598,.1646],[.8203,.7498,.1535],[.8634,.7406,.1596],[.9035,.733,.1774],[.9393,.7288,.21],[.9728,.7298,.2394],[.9956,.7434,.2371],[.997,.7659,.2199],[.9952,.7893,.2028],[.9892,.8136,.1885],[.9786,.8386,.1766],[.9676,.8639,.1643],[.961,.889,.1537],[.9597,.9135,.1423],[.9628,.9373,.1265],[.9691,.9606,.1064],[.9769,.9839,.0805]];

// ---------- geometry ----------
const plotWidth=994,plotHeight=720,cellSize=3;
const colorbarX=1035,colorbarWidth=52,colorbarHeight=722;
const SVGNS='http://www.w3.org/2000/svg';
const slopeToPixels=(plotHeight/(logFDomain[1]-logFDomain[0]))/(plotWidth/(tDomain[1]-tDomain[0]));

function xScale(t){return (t-tDomain[0])/(tDomain[1]-tDomain[0])*plotWidth;}
function xInvert(px){return tDomain[0]+px/plotWidth*(tDomain[1]-tDomain[0]);}
function yScale(f){return (logFDomain[1]-Math.log10(f))/(logFDomain[1]-logFDomain[0])*plotHeight;}
function yInvertLog(py){return logFDomain[1]-py/plotHeight*(logFDomain[1]-logFDomain[0]);}
function cbScale(v){return colorbarHeight*(1-(v-cbDomain[0])/(cbDomain[1]-cbDomain[0]));}

function mk(tag,attrs,parent){
  const el=document.createElementNS(SVGNS,tag);
  for(const k in attrs){el.setAttribute(k,attrs[k]);}
  if(parent){parent.appendChild(el);}
  return el;
}

function interpDescending(xs,ys,x){
  const n=xs.length;
  if(x>=xs[0]){return ys[0];}
  if(x<=xs[n-1]){return ys[n-1];}
  for(let i=1;i<n;i++){
    if(x>=xs[i]){
      const u=(x-xs[i])/(xs[i-1]-xs[i]);
      return ys[i]+(ys[i-1]-ys[i])*u;
    }
  }
  return ys[n-1];
}

function colorOf(v){
  const u=Math.max(0,Math.min(1,(v-cbDomain[0])/(cbDomain[1]-cbDomain[0])))*(parula.length-1);
  const i=Math.min(parula.length-2,Math.floor(u));
  const w=u-i;
  const a=parula[i],b=parula[i+1];
  return [(a[0]+(b[0]-a[0])*w)*255,(a[1]+(b[1]-a[1])*w)*255,(a[2]+(b[2]-a[2])*w)*255];
}

function ridgeCenter(r,t){
  const T=r[0],F=r[1];
  const n=T.length;
  if(t<=T[0]){return F[0];}
  if(t>=T[n-1]){return F[n-1];}
  let i=1;
  while(T[i]<t){i++;}
  return F[i-1]+(F[i]-F[i-1])*(t-T[i-1])/(T[i]-T[i-1]);
}

function segSlope(T,F,j){
  const n=T.length;
  const m=Math.max(1,Math.min(n-1,j));
  return (F[m]-F[m-1])/(T[m]-T[m-1]);
}

function ridgeValue(r,sigma,t,lf){
  const T=r[0],F=r[1],A=r[2];
  const n=T.length;
  if(n===0){return 0;}
  let c,a,fade=1,slope=0;
  if(t<=T[0]){
    c=F[0];a=A[0];
    const d=(T[0]-t)/0.004;
    if(d>4){return 0;}
    fade=Math.exp(-d*d/2);
  }else if(t>=T[n-1]){
    const d=(t-T[n-1])/0.025;
    if(d>4){return 0;}
    a=A[n-1];
    slope=segSlope(T,F,n-1);
    c=F[n-1]+slope*(t-T[n-1]);
    fade=Math.exp(-d*d/2);
  }else{
    let i=1;
    while(T[i]<t){i++;}
    const dt=T[i]-T[i-1];
    const u=(t-T[i-1])/dt;
    c=F[i-1]+(F[i]-F[i-1])*u;
    a=A[i-1]+(A[i]-A[i-1])*u;
    const s0=(segSlope(T,F,i-1)+segSlope(T,F,i))/2;
    const s1=(segSlope(T,F,i)+segSlope(T,F,i+1))/2;
    slope=s0+(s1-s0)*u;
  }
  const k=slope*slopeToPixels;
  const d=(lf-c)/(sigma*Math.sqrt(1+k*k));
  if(Math.abs(d)>4){return 0;}
  return a*fade*Math.exp(-d*d/2);
}

function fieldValue(p,t,lf){
  const f=Math.pow(10,lf);
  // broad background energy, weaker above the ridge
  const hA=interpDescending(hazeLogF,p.haze[0],lf);
  const hEnd=interpDescending(hazeLogF,p.haze[1],lf);
  const wl=Math.min(0.25,Math.max(0.004,0.0007/f));
  const wr=Math.min(0.2,Math.max(0.03,0.0009/f));
  const rc=ridgeCenter(p.main,t);
  const above=0.45+0.55/(1+Math.exp((lf-(rc+0.08))/0.03));
  const h=hA*above/(1+Math.exp(-(t-spikeTime)/wl))/(1+Math.exp(-(hEnd-t)/wr));
  // ridges
  const r1=ridgeValue(p.main,0.06,t,lf);
  const r2=ridgeValue(p.echo,0.055,t,lf);
  const r3=ridgeValue(p.low,0.055,t,lf);
  // localised blobs
  let blob=0;
  const pT=p.patches[0],pF=p.patches[1],pA=p.patches[2],pDt=p.patches[3],pDf=p.patches[4];
  for(let i=0;i<pT.length;i++){
    const dy=(lf-pF[i])/(pDf[i]*1.25);
    if(Math.abs(dy)>4){continue;}
    const dx=(t-pT[i])/(pDt[i]*1.25);
    if(Math.abs(dx)>4){continue;}
    blob+=pA[i]*Math.exp(-(dx*dx+dy*dy)/2);
  }
  // fine veins above the ridge, opening into a V toward low frequency
  let vein=0;
  if(p.veins.length&&lf>-1&&t>spikeTime-0.01){
    const level=p.veinLevel*interpDescending(veinLogF,veinA,lf);
    const st=Math.max(0.004,0.0005/f);
    const spread=Math.min(0.035,0.003/f);
    const gate=1/(1+Math.exp(-(t-spikeTime)/0.003));
    for(let i=0;i<p.veins.length;i++){
      const a=(t-(p.veins[i]-spread))/st;
      const b=(t-(p.veins[i]+spread))/st;
      if(Math.abs(a)<4){vein+=0.75*level*gate*Math.exp(-a*a/2);}
      if(Math.abs(b)<4){vein+=0.75*level*gate*Math.exp(-b*b/2);}
    }
  }
  let v=Math.sqrt(h*h+r1*r1+r2*r2+r3*r3+blob*blob+vein*vein);
  // interference nulls
  const hT=p.holes[0],hF=p.holes[1];
  for(let i=0;i<hT.length;i++){
    const dy=(lf-hF[i])/0.026;
    if(Math.abs(dy)>3.5){continue;}
    const st=p.holeDt[i];
    const dx=(t-hT[i])/st;
    if(Math.abs(dx)>3.5){continue;}
    v*=1-0.82*Math.exp(-(dx*dx+dy*dy)/2);
  }
  // onset transient
  const sa=interpDescending(spikeLogF,spikeA,lf);
  const sd=(t-spikeTime)/Math.max(0.004,0.0005/f);
  if(Math.abs(sd)<4){v+=sa*Math.exp(-sd*sd/2);}
  return v;
}

function coiPath(){
  const pts=[];
  const tStart=coiConstant/Math.pow(10,logFDomain[1]);
  let t=tStart;
  while(t<1){pts.push([t,coiConstant/t]);t*=1.03;}
  pts.push([1,coiConstant]);
  for(let i=pts.length-2;i>=0;i--){pts.push([2-pts[i][0],pts[i][1]]);}
  return pts;
}

// ---------- gradient for the colour bars ----------
const grad=document.getElementById('parula-gradient');
parula.forEach(function(c,i){
  const stop=mk('stop',{offset:(i/(parula.length-1)).toFixed(4),'stop-color':'rgb('+Math.round(c[0]*255)+','+Math.round(c[1]*255)+','+Math.round(c[2]*255)+')'},grad);
});

const figure=document.getElementById('figure');
const overlay=document.getElementById('overlay');

panels.forEach(function(p){
  p.holeDt=p.holes[1].map(function(lf){
    return Math.min(0.045,Math.max(0.006,0.0006/Math.pow(10,lf)));
  });

  // heatmap
  const cols=Math.round(plotWidth/cellSize),rows=Math.round(plotHeight/cellSize);
  const canvas=document.createElement('canvas');
  canvas.width=cols;
  canvas.height=rows;
  canvas.style.left=p.x+'px';
  canvas.style.top=p.y+'px';
  canvas.style.width=plotWidth+'px';
  canvas.style.height=plotHeight+'px';
  
  
  figure.insertBefore(canvas,overlay);
  const ctx=canvas.getContext('2d');
  const img=ctx.createImageData(cols,rows);
  for(let r=0;r<rows;r++){
    const lf=yInvertLog((r+0.5)*cellSize);
    for(let c=0;c<cols;c++){
      const t=xInvert((c+0.5)*cellSize);
      const rgb=colorOf(fieldValue(p,t,lf));
      const k=(r*cols+c)*4;
      img.data[k]=rgb[0];
      img.data[k+1]=rgb[1];
      img.data[k+2]=rgb[2];
      img.data[k+3]=255;
    }
  }
  ctx.putImageData(img,0,0);

  const g=document.getElementById(p.id);

  // cone of influence
  const pts=coiPath();
  const line=pts.map(function(q,i){return (i?'L':'M')+xScale(q[0]).toFixed(1)+' '+yScale(q[1]).toFixed(1);}).join('');
  const clip=mk('g',{'clip-path':'url(#plot-clip)'},g);
  
  
  const shade=mk('path',{d:line+'L'+plotWidth+' '+plotHeight+'L0 '+plotHeight+'L0 0Z',fill:'rgb(240,240,215)','fill-opacity':'0.32',stroke:'none'},clip);
  
  
  const dash=mk('path',{d:line,fill:'none',stroke:'#fff','stroke-opacity':'0.95','stroke-width':'7','stroke-dasharray':'25 24'},clip);
  
  

  // axis lines
  const yAxis=mk('line',{x1:0,y1:0,x2:0,y2:plotHeight,stroke:'#333','stroke-width':'2.5'},g);
  
  
  const xAxis=mk('line',{x1:0,y1:plotHeight,x2:plotWidth,y2:plotHeight,stroke:'#333','stroke-width':'2.5'},g);
  
  

  // x ticks
  tTicks.forEach(function(t,i){
    const tick=mk('line',{x1:xScale(t),y1:plotHeight,x2:xScale(t),y2:plotHeight-10,stroke:'#333','stroke-width':'2'},g);
    
    
    const label=mk('text',{x:xScale(t),y:plotHeight+64,'text-anchor':'middle','class':'tick-label'},g);
    label.textContent=tLabels[i];
    
    
  });

  // y ticks
  fTicks.forEach(function(f,i){
    const tick=mk('line',{x1:0,y1:yScale(f),x2:10,y2:yScale(f),stroke:'#333','stroke-width':'2'},g);
    
    
    const label=mk('text',{x:-65,y:yScale(f)+20,'text-anchor':'middle','class':'tick-label'},g);
    label.textContent=fLabels[i];
    
    
  });
  fMinorTicks.forEach(function(f){
    const tick=mk('line',{x1:0,y1:yScale(f),x2:5,y2:yScale(f),stroke:'#333','stroke-width':'1.6'},g);
    
    
  });

  // colour bar
  const bar=mk('rect',{x:colorbarX,y:0,width:colorbarWidth,height:colorbarHeight,fill:'url(#parula-gradient)',stroke:'#333','stroke-width':'2'},g);
  
  
  cbTicks.forEach(function(v){
    const tick=mk('line',{x1:colorbarX+colorbarWidth-6,y1:cbScale(v),x2:colorbarX+colorbarWidth,y2:cbScale(v),stroke:'#333','stroke-width':'2'},g);
    
    
    const label=mk('text',{x:colorbarX+71,y:cbScale(v)+20,'class':'tick-label'},g);
    label.textContent=String(v);
    
    
  });
});
</script>
</body>
</html>
